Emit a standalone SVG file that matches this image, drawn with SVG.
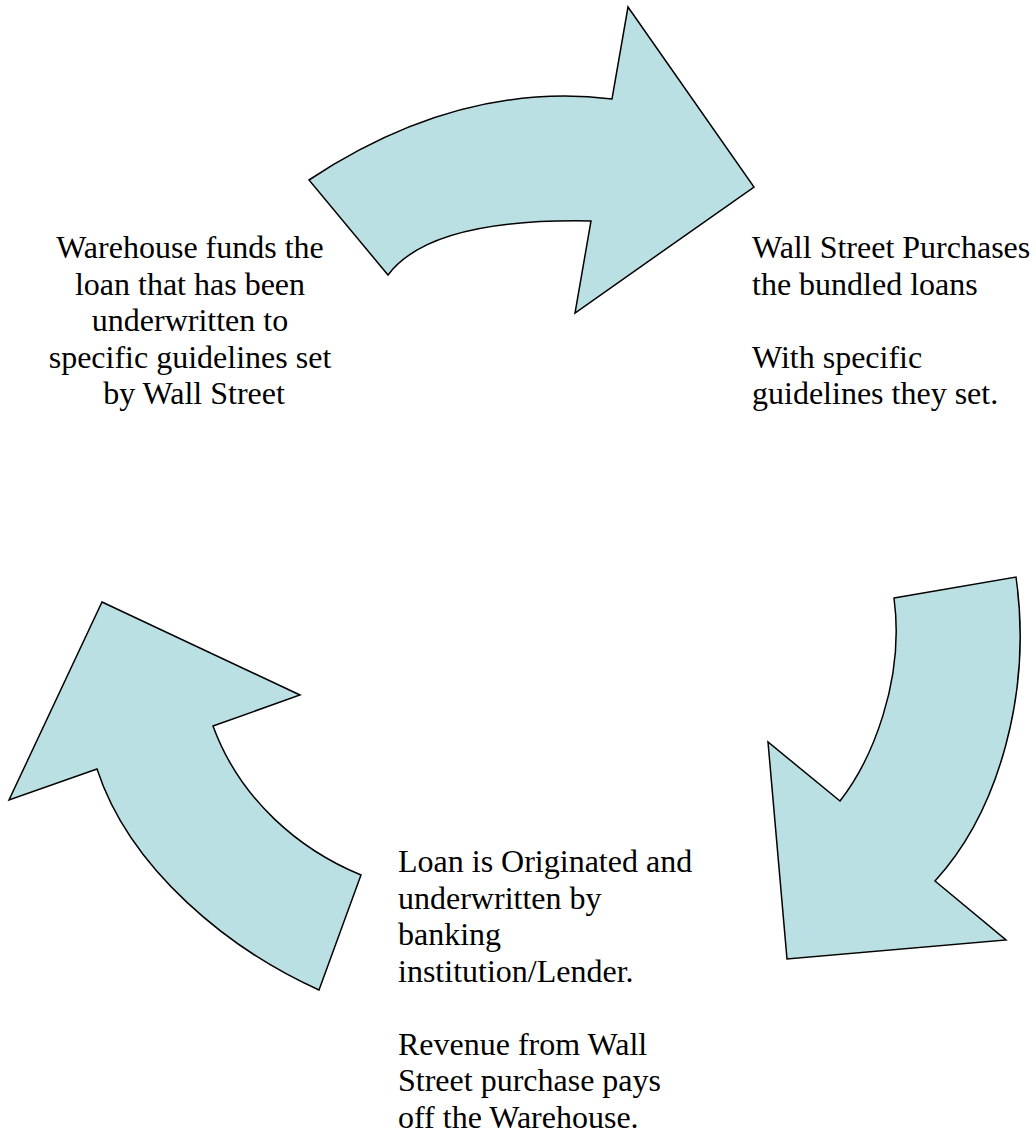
<svg xmlns="http://www.w3.org/2000/svg" width="1036" height="1134" viewBox="0 0 1036 1134">
<style>
.arrow{fill:#BBE0E3;stroke:#000;stroke-width:1.5;stroke-linejoin:miter}
.t{font-family:"Liberation Serif","Times New Roman",serif;font-size:32px;fill:#000}
</style>
<rect width="1036" height="1134" fill="#fff"/>
<g id="connectors">
<path id="arrow-top" class="arrow" d="M309,180 Q459.5,80.5 612,99 L628,7 L754,187 L575,313 L591,221 Q430.5,218 388,275 Z"/>
<path id="arrow-right" class="arrow" d="M894,598 L1016,577 C1032,690 1000,810 935,881 L1006,940 L787,959 L768,742 L840,801 C872,760 905,680 894,598 Z"/>
<path id="arrow-left" class="arrow" d="M102,602 L300,695 L213,726 C240,800 300,850 361,875 L319,990 C230,950 130,870 97,769 L9,800 Z"/>
</g>
<g id="node-warehouse">
<text class="t" text-anchor="middle">
<tspan x="194" y="258">Warehouse funds the</tspan>
<tspan x="194" y="294.5">loan that has been</tspan>
<tspan x="194" y="331">underwritten to</tspan>
<tspan x="194" y="367.5">specific guidelines set</tspan>
<tspan x="194" y="404">by Wall Street</tspan>
</text>
</g>
<g id="node-wallstreet">
<text class="t">
<tspan x="752" y="258">Wall Street Purchases</tspan>
<tspan x="752" y="294.5">the bundled loans</tspan>
<tspan x="752" y="367.5">With specific</tspan>
<tspan x="752" y="404">guidelines they set.</tspan>
</text>
</g>
<g id="node-loan">
<text class="t">
<tspan x="398" y="872">Loan is Originated and</tspan>
<tspan x="398" y="908.5">underwritten by</tspan>
<tspan x="398" y="945">banking</tspan>
<tspan x="398" y="981.5">institution/Lender.</tspan>
<tspan x="398" y="1054.5">Revenue from Wall</tspan>
<tspan x="398" y="1091">Street purchase pays</tspan>
<tspan x="398" y="1127.5">off the Warehouse.</tspan>
</text>
</g>
</svg>
